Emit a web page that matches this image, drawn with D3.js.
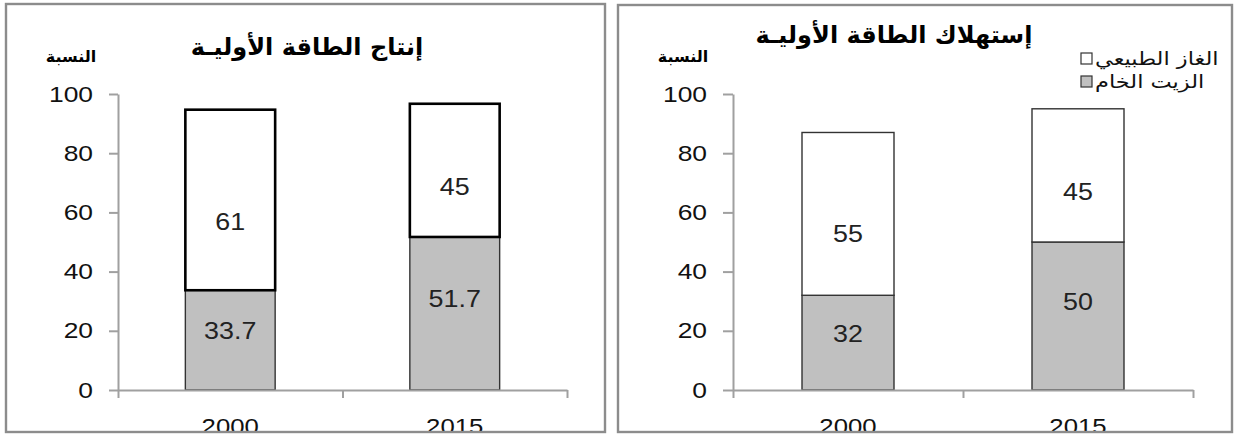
<!DOCTYPE html>
<html>
<head>
<meta charset="utf-8">
<script src="https://cdn.jsdelivr.net/npm/d3@7"></script>
<style>
  body { margin: 0; background: #fff; }
  .tickLbl { transform-box: fill-box; transform-origin: 100% 50%; transform: scaleX(1.2); }
  .midLbl { transform-box: fill-box; transform-origin: 50% 50%; transform: scaleX(1.12); }
  .legLbl { transform-box: fill-box; transform-origin: 0% 50%; transform: scaleX(1.25); }
</style>
</head>
<body>
<script>
// values
const years = ["2000", "2015"];
const prodOil = [33.7, 51.7];
const prodGas = [61, 45];
const consOil = [32, 50];
const consGas = [55, 45];
const yTicks = [0, 20, 40, 60, 80, 100];
const titles = ["إنتاج الطاقة الأوليـة", "إستهلاك الطاقة الأوليـة"];
const yLabel = "النسبة";
const legendNames = ["الغاز الطبيعي", "الزيت الخام"];
const keys = ["oil", "gas"];
const fills = { oil: "#c0c0c0", gas: "#ffffff" };
// where the value sits inside its segment (share of the segment height)
const labelPos = { oil: 0.6, gas: 0.38 };

const W = 1237, H = 436;
const LATIN = "Arial, 'Liberation Sans', sans-serif";
const ARABIC = "'DejaVu Sans', sans-serif";

const svg = d3.select("body").append("svg")
  .attr("width", W)
  .attr("height", H)
  .style("background-color", "#fff");

function drawPanel(p) {
  const g = svg.append("g");

  const y = d3.scaleLinear().domain([0, 100]).range([390, 94]);
  const x = d3.scaleBand().domain(years).range([p.x0, p.x1])
    .paddingInner(0.6).paddingOuter(0.3);
  const xb = d3.scaleLinear().domain([0, years.length]).range([p.x0, p.x1]);

  const rows = years.map((yr, i) => ({ year: yr, oil: p.oil[i], gas: p.gas[i] }));
  const stacked = d3.stack().keys(keys)(rows);

  // bars
  stacked.forEach(s => {
    g.selectAll(null).data(s).enter().append("rect")
      .attr("x", d => x(d.data.year))
      .attr("y", d => y(d[1]))
      .attr("width", x.bandwidth())
      .attr("height", d => y(d[0]) - y(d[1]))
      .attr("fill", fills[s.key])
      .attr("stroke", p.heavy && s.key == "gas" ? "#000" : "#333")
      .attr("stroke-width", p.heavy && s.key == "gas" ? 2.6 : 1.4);
  });

  // values inside the segments
  stacked.forEach(s => {
    g.selectAll(null).data(s).enter().append("text")
      .attr("class", "midLbl")
      .attr("x", d => x(d.data.year) + x.bandwidth() / 2)
      .attr("y", d => y(d[0] + (d[1] - d[0]) * labelPos[s.key]))
      .attr("dy", "0.35em")
      .attr("text-anchor", "middle")
      .attr("font-family", LATIN)
      .attr("font-size", "24px")
      .attr("fill", "#222")
      .text(d => d.data[s.key]);
  });

  // y axis
  const ya = g.append("g")
    .attr("transform", `translate(${p.x0},0)`)
    .call(d3.axisLeft(y).tickValues(yTicks).tickSize(p.tick).tickSizeOuter(0).tickPadding(16));
  ya.selectAll("path, line").attr("stroke", "#a0a0a0").attr("stroke-width", 2);
  ya.selectAll("text")
    .attr("class", "tickLbl")
    .attr("font-family", LATIN)
    .attr("font-size", "22px")
    .attr("fill", "#111");

  // x axis: ticks between the categories
  const xa = g.append("g")
    .attr("transform", "translate(0,390)")
    .call(d3.axisBottom(xb).tickValues(d3.range(years.length + 1)).tickSize(8)
      .tickSizeOuter(0).tickFormat(""));
  xa.selectAll("path, line").attr("stroke", "#a0a0a0").attr("stroke-width", 2);

  // year labels, partly hidden by the frame as in the original
  g.selectAll(null).data(years).enter().append("text")
    .attr("class", "midLbl")
    .attr("x", d => x(d) + x.bandwidth() / 2)
    .attr("y", 434)
    .attr("text-anchor", "middle")
    .attr("font-family", LATIN)
    .attr("font-size", "23px")
    .attr("fill", "#111")
    .text(d => d);

  // titles
  g.append("text")
    .attr("x", p.titleX)
    .attr("y", p.titleY)
    .attr("text-anchor", "middle")
    .attr("font-family", ARABIC)
    .attr("font-weight", "bold")
    .attr("font-size", "24px")
    .attr("fill", "#000")
    .text(p.title);

  g.append("text")
    .attr("x", p.unitX)
    .attr("y", 62)
    .attr("text-anchor", "middle")
    .attr("font-family", ARABIC)
    .attr("font-weight", "bold")
    .attr("font-size", "16px")
    .attr("fill", "#000")
    .text(yLabel);

  // cut the year labels at the frame, then the frame
  g.append("rect")
    .attr("x", p.bx0 - 2).attr("y", 432)
    .attr("width", p.bx1 - p.bx0 + 4).attr("height", 6)
    .attr("fill", "#fff");
  g.append("rect")
    .attr("x", p.bx0).attr("y", p.by0)
    .attr("width", p.bx1 - p.bx0).attr("height", 432 - p.by0)
    .attr("fill", "none")
    .attr("stroke", "#8c8c8c")
    .attr("stroke-width", 2.4);
}

drawPanel({ oil: prodOil, gas: prodGas, title: titles[0], heavy: true,
  x0: 118, x1: 567, tick: 9, titleX: 307, titleY: 55, unitX: 71,
  bx0: 6, bx1: 605, by0: 4 });

drawPanel({ oil: consOil, gas: consGas, title: titles[1], heavy: false,
  x0: 733, x1: 1193, tick: 10, titleX: 894, titleY: 43, unitX: 683,
  bx0: 618, bx1: 1232, by0: 5 });

// legend (right panel)
const legendKeys = ["gas", "oil"];
const legend = svg.append("g");
legend.selectAll("rect").data(legendKeys).enter().append("rect")
  .attr("x", 1081)
  .attr("y", (d, i) => 53 + i * 23)
  .attr("width", 11)
  .attr("height", 11)
  .attr("fill", d => fills[d])
  .attr("stroke", "#333")
  .attr("stroke-width", 1.2);
legend.selectAll("text").data(legendNames).enter().append("text")
  .attr("class", "legLbl")
  .attr("x", 1095)
  .attr("y", (d, i) => 65 + i * 23)
  .attr("font-family", ARABIC)
  .attr("font-size", "18px")
  .attr("fill", "#111")
  .text(d => d);
</script>
</body>
</html>
